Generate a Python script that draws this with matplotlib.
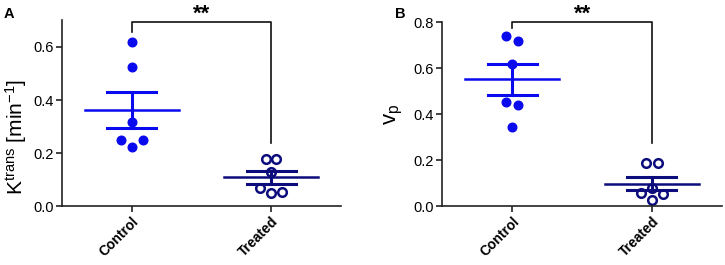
import numpy as np
import matplotlib
matplotlib.use("Agg")
import matplotlib.pyplot as plt

plt.rcParams['font.family'] = ['Liberation Sans', 'DejaVu Sans']
plt.rcParams['mathtext.fontset'] = 'custom'
plt.rcParams['mathtext.rm'] = 'Liberation Sans'
plt.rcParams['mathtext.it'] = 'Liberation Sans'

# data
groups = ['Control', 'Treated']
ktrans_control = [0.618, 0.526, 0.316, 0.249, 0.249, 0.225]
ktrans_treated = [0.177, 0.177, 0.128, 0.068, 0.049, 0.053]
vp_control = [0.740, 0.720, 0.617, 0.454, 0.439, 0.343]
vp_treated = [0.187, 0.187, 0.081, 0.059, 0.052, 0.028]

blue = '#0a0aee'
navy = '#0c0c7c'


def draw_group(ax, x, vals, jit, color, filled):
    vals = np.array(vals)
    xs = x + np.array(jit)
    if filled:
        ax.plot(xs, vals, 'o', ms=6.2, color=color, zorder=2, clip_on=False)
    else:
        ax.plot(xs, vals, 'o', ms=6.2, mfc='none', mec=color, mew=1.8, zorder=2, clip_on=False)
    m = vals.mean()
    sem = vals.std(ddof=1) / np.sqrt(len(vals))
    ax.plot([x - 0.337, x + 0.337], [m, m], color=color, lw=1.8, zorder=3)
    ax.plot([x - 0.175, x + 0.175], [m + sem, m + sem], color=color, lw=2.2, zorder=3)
    ax.plot([x - 0.175, x + 0.175], [m - sem, m - sem], color=color, lw=2.2, zorder=3)
    ax.plot([x, x], [m - sem, m + sem], color=color, lw=2.2, zorder=3)


def style(ax, ymax, yticks):
    ax.set_xlim(-0.5, 1.5)
    ax.set_ylim(0, ymax)
    ax.set_yticks(yticks)
    ax.set_yticklabels(['%.1f' % t for t in yticks], fontsize=10.5)
    ax.set_xticks([0, 1])
    ax.set_xticklabels(groups, rotation=45, ha='right', rotation_mode='anchor',
                       fontsize=10, fontweight='bold')
    for s in ['top', 'right']:
        ax.spines[s].set_visible(False)
    for s in ['left', 'bottom']:
        ax.spines[s].set_linewidth(1.2)
        ax.spines[s].set_color('#222222')
    ax.tick_params(direction='out', length=4, width=1.2, color='#222222', pad=2)


fig = plt.figure(figsize=(7.25, 2.65), dpi=100)
axA = fig.add_axes([62 / 725, 1 - 206.3 / 265, 279 / 725, 186 / 265])
axB = fig.add_axes([442.3 / 725, 1 - 206.3 / 265, 279.4 / 725, 184 / 265])

draw_group(axA, 0, ktrans_control, [0, 0, 0, -0.08, 0.08, 0], blue, True)
draw_group(axA, 1, ktrans_treated, [-0.036, 0.036, 0, -0.08, 0, 0.08], navy, False)
draw_group(axB, 0, vp_control, [-0.042, 0.042, 0, -0.042, 0.042, 0], blue, True)
draw_group(axB, 1, vp_treated, [-0.042, 0.042, 0, -0.08, 0.08, 0], navy, False)

style(axA, 0.7, [0.0, 0.2, 0.4, 0.6])
style(axB, 0.8, [0.0, 0.2, 0.4, 0.6, 0.8])

axA.set_ylabel(r'K$^{\mathregular{trans}}$ [min$^{\mathregular{-1}}$]', fontsize=15)
axA.yaxis.set_label_coords(-0.118, 0.375)
axB.set_ylabel(r'v$_{\mathregular{p}}$', fontsize=16)
axB.yaxis.set_label_coords(-0.135, 0.5)

# significance brackets
axA.plot([0, 0, 1, 1], [0.655, 0.693, 0.693, 0.237], color='#111111', lw=1.2, clip_on=False)
axB.plot([0, 0, 1, 1], [0.776, 0.8, 0.8, 0.274], color='#111111', lw=1.2, clip_on=False)
fig.text(202 / 725, 1 - 14 / 265, '**', ha='center', va='center', fontsize=16, fontweight='bold')
fig.text(583 / 725, 1 - 14 / 265, '**', ha='center', va='center', fontsize=16, fontweight='bold')

fig.text(4 / 725, 1 - 14 / 265, 'A', ha='left', va='center', fontsize=10.5, fontweight='bold')
fig.text(395 / 725, 1 - 14 / 265, 'B', ha='left', va='center', fontsize=10.5, fontweight='bold')

fig.savefig('out.png', dpi=100)
